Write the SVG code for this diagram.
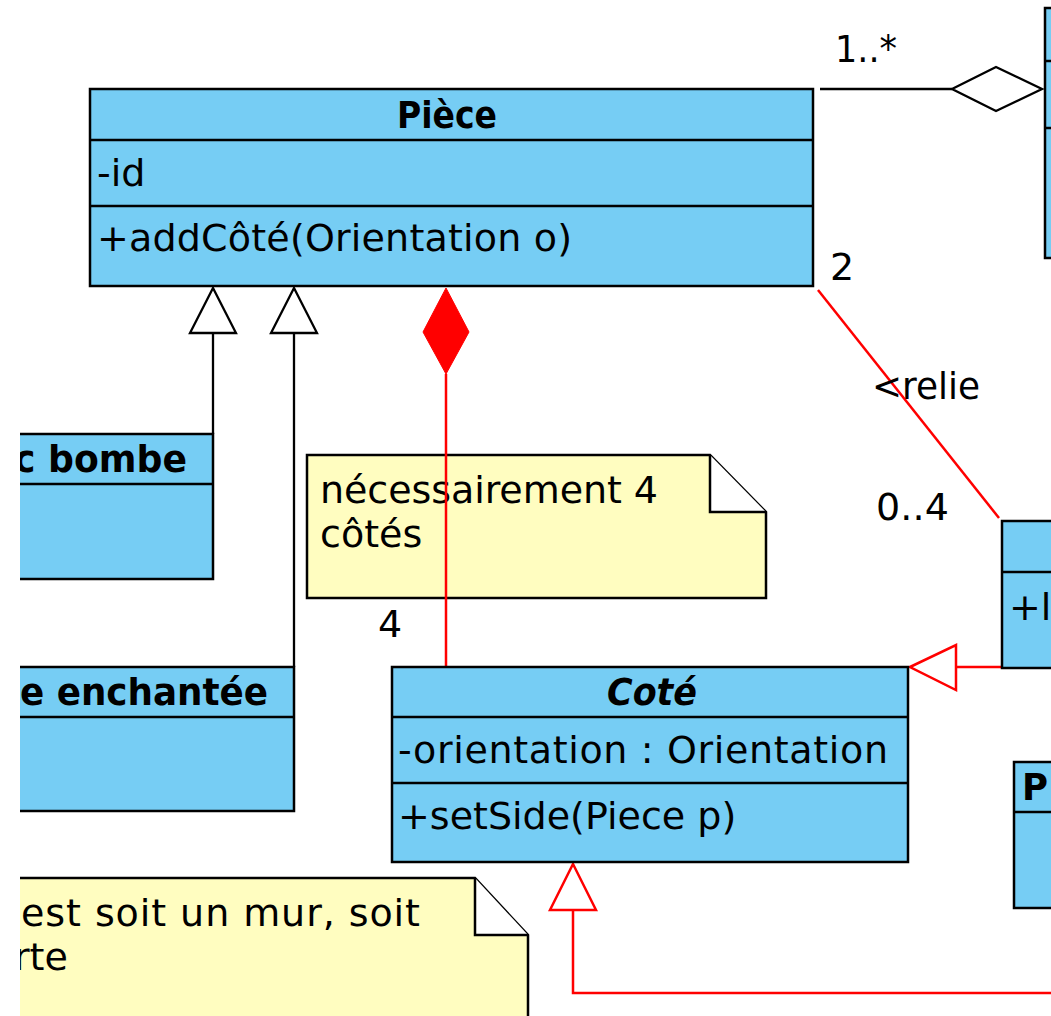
<svg xmlns="http://www.w3.org/2000/svg" width="1051" height="1016" viewBox="0 0 1051 1016">
<style>
.box{fill:#76CDF4;stroke:#000;stroke-width:2.5}
.sep{stroke:#000;stroke-width:2.5;fill:none}
.note{fill:#FFFDC0;stroke:#000;stroke-width:2.5}
.fold{fill:#fff;stroke:#000;stroke-width:2.5;stroke-linejoin:miter}
.t{font-family:"DejaVu Sans",sans-serif;font-size:38px;fill:#000}
.b{font-weight:bold}
.i{font-style:italic}
.ln{stroke:#000;stroke-width:2.3;fill:none}
.rl{stroke:#FF0000;stroke-width:2.5;fill:none}
.tri{fill:#fff;stroke:#000;stroke-width:2.3}
.rtri{fill:#fff;stroke:#FF0000;stroke-width:2.5}
</style>
<defs>
<clipPath id="lc"><rect x="20" y="0" width="1031" height="1016"/></clipPath>
</defs>
<rect x="0" y="0" width="1051" height="1016" fill="#fff"/>

<g id="note-4cotes">
<polygon class="note" points="307,455 710,455 766,512 766,598 307,598"/>
<polyline class="fold" points="710,455 710,512 766,512"/>
<text class="t" x="320" y="503" textLength="338">nécessairement 4</text>
<text class="t" x="320" y="547">côtés</text>
</g>

<g id="note-cote" clip-path="url(#lc)">
<polygon class="note" points="-100,878 475,878 528,935 528,1030 -100,1030"/>
<polyline class="fold" points="475,878 475,935 528,935"/>
<text class="t" x="21" y="926" textLength="399"> est soit un mur, soit</text>
<text class="t" x="14" y="970">rte</text>
</g>

<g id="connectors">
<line class="ln" x1="820" y1="89" x2="952" y2="89"/>
<polygon class="tri" points="952,89 996,67 1042,89 996,111"/>
<line class="ln" x1="213" y1="333" x2="213" y2="434"/>
<polygon class="tri" points="213,288 236,333 190,333"/>
<line class="ln" x1="294" y1="333" x2="294" y2="667"/>
<polygon class="tri" points="294,288 317,333 271,333"/>
<line class="rl" x1="446" y1="374" x2="446" y2="667"/>
<polygon fill="#FF0000" stroke="#FF0000" stroke-width="1" points="446,288 469,332 446,374 423,332"/>
<line class="rl" x1="818" y1="290" x2="999" y2="518"/>
<line class="rl" x1="956" y1="667" x2="1002" y2="667"/>
<polygon class="rtri" points="910,667 956,645 956,690"/>
<polyline class="rl" points="573,910 573,993 1060,993"/>
<polygon class="rtri" points="573,864 596,910 550,910"/>
<text class="t" x="835" y="62" textLength="62" lengthAdjust="spacingAndGlyphs">1..*</text>
<text class="t" x="830" y="280">2</text>
<text class="t" x="872" y="399" textLength="108" lengthAdjust="spacingAndGlyphs">&lt;relie</text>
<text class="t" x="876" y="520" textLength="73">0..4</text>
<text class="t" x="378" y="637">4</text>
</g>

<g id="node-right-top">
<rect class="box" x="1045" y="8" width="30" height="250"/>
<line class="sep" x1="1045" y1="61" x2="1075" y2="61"/>
<line class="sep" x1="1045" y1="128" x2="1075" y2="128"/>
</g>

<g id="node-piece">
<rect class="box" x="90" y="89" width="723" height="197"/>
<line class="sep" x1="90" y1="140" x2="813" y2="140"/>
<line class="sep" x1="90" y1="206" x2="813" y2="206"/>
<text class="t b" x="447" y="128" text-anchor="middle" textLength="100" lengthAdjust="spacingAndGlyphs">Pièce</text>
<text class="t" x="97" y="186">-id</text>
<text class="t" x="97" y="251" textLength="475">+addCôté(Orientation o)</text>
</g>

<g id="node-bombe" clip-path="url(#lc)">
<rect class="box" x="-100" y="434" width="313" height="145"/>
<line class="sep" x1="-100" y1="484" x2="213" y2="484"/>
<text class="t b" x="14" y="472" textLength="173" lengthAdjust="spacingAndGlyphs">c bombe</text>
</g>

<g id="node-enchantee" clip-path="url(#lc)">
<rect class="box" x="-100" y="667" width="394" height="144"/>
<line class="sep" x1="-100" y1="717" x2="294" y2="717"/>
<text class="t b" x="20" y="705" textLength="248" lengthAdjust="spacingAndGlyphs">e enchantée</text>
</g>

<g id="node-cote">
<rect class="box" x="392" y="667" width="516" height="195"/>
<line class="sep" x1="392" y1="717" x2="908" y2="717"/>
<line class="sep" x1="392" y1="783" x2="908" y2="783"/>
<text class="t b i" x="652" y="705" text-anchor="middle" textLength="90" lengthAdjust="spacingAndGlyphs">Coté</text>
<text class="t" x="398" y="763" textLength="490">-orientation : Orientation</text>
<text class="t" x="398" y="829">+setSide(Piece p)</text>
</g>

<g id="node-right-mid">
<rect class="box" x="1002" y="521" width="80" height="147"/>
<line class="sep" x1="1002" y1="572" x2="1082" y2="572"/>
<text class="t" x="1009" y="620">+l</text>
</g>

<g id="node-right-p">
<rect class="box" x="1014" y="762" width="80" height="146"/>
<line class="sep" x1="1014" y1="812" x2="1094" y2="812"/>
<text class="t b" x="1022" y="800" textLength="26" lengthAdjust="spacingAndGlyphs">P</text>
</g>
</svg>
